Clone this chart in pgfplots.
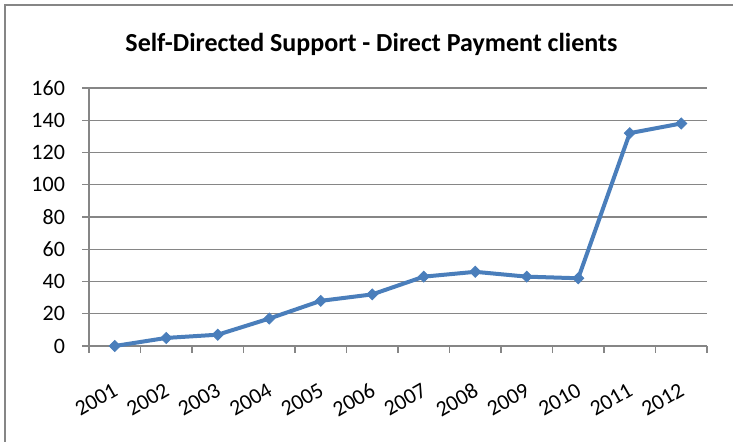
\documentclass[border=0pt]{standalone}
\usepackage{fontspec}
\setmainfont{Carlito}
\usepackage{pgfplots}
\pgfplotsset{compat=1.18}
\definecolor{axisgray}{HTML}{868686}
\definecolor{lineblue}{HTML}{4A7EBB}
\begin{document}
\begin{tikzpicture}
\path[use as bounding box] (0,0) rectangle (366.5pt,221pt);
\draw[axisgray, line width=0.8pt] (2.5pt,-2pt) -- (2.5pt,218.5pt) -- (370pt,218.5pt);
\node[anchor=base, font=\bfseries\fontsize{13}{15}\selectfont] at (185.75pt,195pt) {Self-Directed Support - Direct Payment clients};
\begin{axis}[
  at={(44.5pt,48pt)}, anchor=south west, scale only axis,
  width=309pt, height=129pt,
  xmin=0.5, xmax=12.5, ymin=0, ymax=160,
  axis x line*=bottom, axis y line*=left,
  axis line style={draw=axisgray, line width=0.65pt},
  ytick={0,20,...,160}, ymajorgrids,
  grid style={draw=axisgray, line width=0.65pt},
  xtick={1,...,12},
  xticklabels={2001,2002,2003,2004,2005,2006,2007,2008,2009,2010,2011,2012},
  minor xtick={0.5,1.5,...,12.5},
  major x tick style={draw=none},
  tick align=outside, major tick length=3.5pt, minor tick length=3.5pt,
  every tick/.style={draw=axisgray, line width=0.65pt},
  /pgf/number format/assume math mode=true,
  tick label style={font=\fontsize{11}{13}\selectfont, text=black},
  yticklabel style={xshift=-5pt},
  xticklabel style={xshift=-1pt, yshift=-13pt, rotate=30, anchor=north east, inner sep=1pt},
  clip=false,
]
\addplot[lineblue, line width=2pt, mark=square*, mark size=1.95pt, mark options={rotate=45, fill=lineblue, draw=lineblue, line width=0.4pt}]
coordinates {(1,0) (2,5) (3,7) (4,17) (5,28) (6,32) (7,43) (8,46) (9,43) (10,42) (11,132) (12,138)};
\end{axis}
\end{tikzpicture}
\end{document}
